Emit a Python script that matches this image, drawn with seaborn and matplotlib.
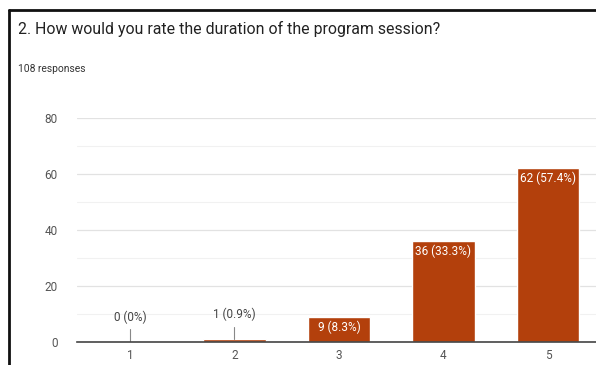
import matplotlib
matplotlib.use("Agg")
import matplotlib.pyplot as plt
import seaborn as sns
import pandas as pd
from matplotlib.lines import Line2D

categories = ["1", "2", "3", "4", "5"]
counts = [0, 1, 9, 36, 62]
percent_labels = ["0%", "0.9%", "8.3%", "33.3%", "57.4%"]
title = "2. How would you rate the duration of the program session?"
subtitle = "108 responses"

sns.set_theme(style="white")
FONT = ["Roboto", "DejaVu Sans"]
plt.rcParams["font.family"] = FONT

df = pd.DataFrame({"rating": categories, "count": counts})

fig = plt.figure(figsize=(5.96, 3.65), dpi=100)
ax = fig.add_axes([77 / 596, 23 / 365, 1 - 77 / 596, 224 / 365])

bar_color = "#b3400c"
sns.barplot(data=df, x="rating", y="count", color=bar_color, width=0.6,
            saturation=1, ax=ax, zorder=3)

ax.set_ylim(0, 80)
ax.set_xlim(-0.507, 4.46)
ax.set_yticks([0, 20, 40, 60, 80])
ax.set_yticks([10, 30, 50, 70], minor=True)
ax.grid(axis="y", which="major", color="#e2e2e2", lw=0.9, zorder=0)
ax.grid(axis="y", which="minor", color="#f1f1f1", lw=0.8, zorder=0)
ax.set_axisbelow(True)
for s in ["top", "right", "left"]:
    ax.spines[s].set_visible(False)
ax.spines["bottom"].set_color("#444444")
ax.spines["bottom"].set_linewidth(1.2)
ax.spines["bottom"].set_zorder(4)
ax.tick_params(axis="both", which="both", length=0, labelsize=8.5,
               colors="#555555")
ax.tick_params(axis="y", pad=14)
ax.tick_params(axis="x", pad=5)
ax.set_xlabel("")
ax.set_ylabel("")

for i, (c, p) in enumerate(zip(counts, percent_labels)):
    label = f"{c} ({p})"
    if c < 5:
        ax.plot([i, i], [c, c + 4.5], color="#888888", lw=0.8, zorder=4)
        ax.text(i, c + 6.5, label, ha="center", va="bottom", fontsize=8.5,
                color="#444444")
    else:
        ax.text(i, c - 1.2, label, ha="center", va="top", fontsize=8.5,
                color="white", zorder=5)

fig.text(18 / 596, 1 - 29 / 365, title, fontsize=11.4, color="#222222",
         ha="left", va="center")
fig.text(18 / 596, 1 - 69 / 365, subtitle, fontsize=7.4, color="#333333",
         ha="left", va="center")

# card frame (top and left edges)
fig.add_artist(Line2D([9 / 596, 1], [1 - 10 / 365, 1 - 10 / 365],
                      transform=fig.transFigure, color="#111111", lw=2))
fig.add_artist(Line2D([9 / 596, 9 / 596], [0, 1 - 10 / 365],
                      transform=fig.transFigure, color="#111111", lw=2))

fig.savefig("out.png", dpi=100, facecolor="white")
